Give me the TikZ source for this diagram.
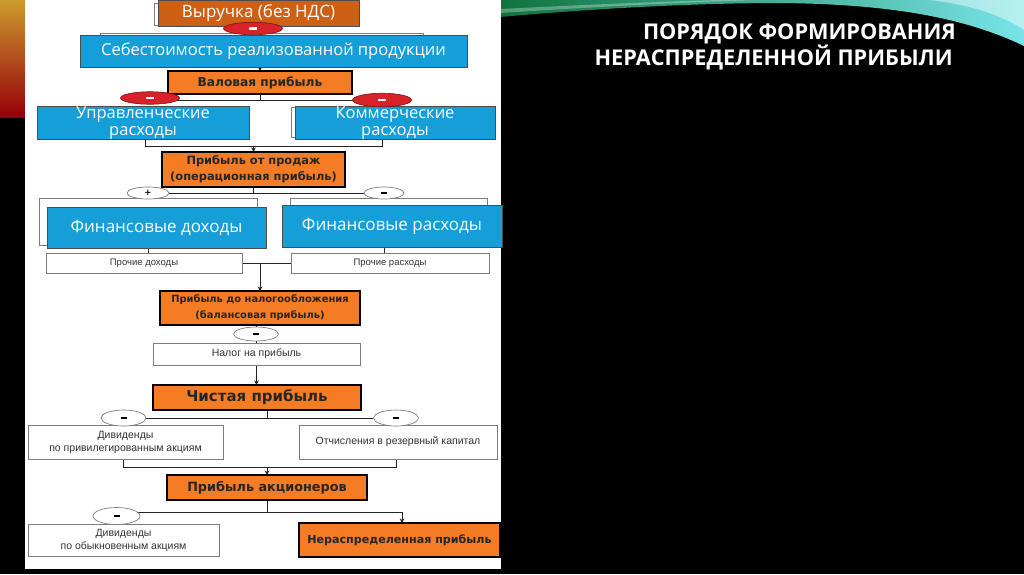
\documentclass[tikz,border=0pt]{standalone}
\usepackage{fontspec}
\setmainfont{Open Sans}
\newfontfamily\osans{Open Sans}
\newfontfamily\dvs{DejaVu Sans}
\newfontfamily\lsans{Liberation Sans}
\usetikzlibrary{arrows.meta,shapes.geometric}
\pgfdeclarelayer{bg}
\pgfsetlayers{bg,main}
\definecolor{revor}{RGB}{206,96,22}
\definecolor{boxor}{RGB}{244,124,36}
\definecolor{boxbl}{RGB}{22,158,216}
\definecolor{ovred}{RGB}{214,34,40}
\definecolor{lncol}{RGB}{35,35,35}
\definecolor{gbord}{RGB}{125,125,125}
\newcommand{\redminus}{\rule{7.5pt}{2.6pt}}
\newcommand{\whminus}{\rule{6pt}{1.7pt}}
\tikzset{
  bx/.style={rectangle, inner sep=0pt, outer sep=0pt, anchor=center, align=center},
  bluebox/.style={bx, fill=boxbl, draw=black!70, line width=0.8pt, text=white,
    font=\osans\fontsize{16.5}{17}\selectfont},
  revbox/.style={bx, fill=revor, draw=black!70, line width=0.8pt, text=white,
    font=\osans\fontsize{17}{18}\selectfont},
  orbox/.style={bx, fill=boxor, draw=black, line width=1.6pt, text=black!85},
  whbox/.style={bx, fill=white, draw=gbord, line width=0.8pt, text=black!80},
  backbox/.style={draw=gbord, fill=white, line width=0.7pt},
  redov/.style={ellipse, fill=ovred, draw=ovred!55!black, line width=0.6pt,
    minimum width=59pt, minimum height=12.5pt, inner sep=0pt, text=white},
  whov/.style={ellipse, fill=white, draw=gbord, line width=0.7pt,
    minimum width=45pt, minimum height=14pt, inner sep=0pt, text=black,
    font=\dvs\bfseries\fontsize{8.5}{8.5}\selectfont},
  conn/.style={draw=lncol, line width=0.8pt},
  arr/.style={conn, -{Stealth[length=4.5pt,width=4.5pt]}},
  ttl/.style={text=white, font=\osans\bfseries\fontsize{21.7}{26}\selectfont, inner sep=0pt, anchor=base east}
}
\begin{document}
\begin{tikzpicture}[x=1pt,y=-1pt]
\useasboundingbox (0,0) rectangle (1024,574);
\begin{pgfonlayer}{bg}
\fill[black] (0,0) rectangle (1024,574);
\shade[top color={rgb,255:red,205;green,155;blue,45}, middle color={rgb,255:red,228;green,45;blue,20}, bottom color={rgb,255:red,150;green,0;blue,10}] (0,0) rectangle (25,117);
\shade[left color={rgb,255:red,15;green,115;blue,60}, middle color={rgb,255:red,50;green,190;blue,170}, right color={rgb,255:red,120;green,228;blue,232}]
  (500,0) -- (1024,0) -- (1024,46) .. controls (960,15) and (880,4) .. (780,3) .. controls (700,3) and (600,8) .. (500,17) -- cycle;
\fill[white, opacity=0.3] (500,9) .. controls (580,5) and (650,2) .. (720,0) -- (760,0) .. controls (660,3) and (580,8) .. (500,13) -- cycle;
\fill[white, opacity=0.45] (930,0) -- (1024,0) -- (1024,30) .. controls (1000,14) and (970,5) .. (930,0) -- cycle;
\fill[white] (25,0) rectangle (501,569);
\draw[backbox] (154,3) rectangle (356,25);
\draw[backbox] (100,33) rectangle (423,60);
\draw[backbox] (291,107) rectangle (490,137);
\draw[backbox] (39,198) rectangle (257,245);
\draw[backbox] (290,198) rectangle (487,247);
\end{pgfonlayer}

% title
\node[ttl] (title1) at (956,39) {ПОРЯДОК ФОРМИРОВАНИЯ};
\node[ttl] (title2) at (953,65) {НЕРАСПРЕДЕЛЕННОЙ ПРИБЫЛИ};

% boxes
\node[revbox, minimum width=201pt, minimum height=26pt] (rev) at (258.5,13) {Выручка (без НДС)};
\node[bluebox, minimum width=387pt, minimum height=32pt] (cost) at (273.5,51) {Себестоимость реализованной продукции};
\node[orbox, minimum width=184pt, minimum height=23pt, font=\dvs\bfseries\fontsize{12.2}{14}\selectfont] (gross) at (260,82.5) {Валовая прибыль};
\node[bluebox, minimum width=212pt, minimum height=32pt] (upr) at (143,123) {Управленческие\\расходы};
\node[bluebox, minimum width=200pt, minimum height=32pt] (kom) at (395,123) {Коммерческие\\расходы};
\node[orbox, minimum width=183pt, minimum height=35pt, font=\dvs\bfseries\fontsize{11.4}{16}\selectfont] (sales) at (253.5,169.5) {Прибыль от продаж\\(операционная прибыль)};
\node[bluebox, minimum width=219pt, minimum height=41pt, font=\osans\fontsize{17}{18}\selectfont] (findoh) at (156.5,227.5) {Финансовые доходы};
\node[bluebox, minimum width=220pt, minimum height=42pt, font=\osans\fontsize{17}{18}\selectfont] (finras) at (392,226) {Финансовые расходы};
\node[whbox, minimum width=196pt, minimum height=20pt, font=\lsans\fontsize{9.5}{11}\selectfont] (prdoh) at (144,263) {Прочие доходы};
\node[whbox, minimum width=198pt, minimum height=20pt, font=\lsans\fontsize{9.5}{11}\selectfont] (prras) at (390,263) {Прочие расходы};
\node[orbox, minimum width=200pt, minimum height=34pt, font=\dvs\bfseries\fontsize{9.9}{16}\selectfont] (pretax) at (260,308) {Прибыль до налогообложения\\(балансовая прибыль)};
\node[whbox, minimum width=207pt, minimum height=22pt, font=\lsans\fontsize{10.5}{12}\selectfont] (tax) at (256.5,354) {Налог на прибыль};
\node[orbox, minimum width=208pt, minimum height=25pt, font=\dvs\bfseries\fontsize{15}{17}\selectfont] (net) at (257,397.5) {Чистая прибыль};
\node[whbox, minimum width=195pt, minimum height=34pt, font=\lsans\fontsize{10.5}{13}\selectfont] (divpref) at (125.5,442) {Дивиденды\\по привилегированным акциям};
\node[whbox, minimum width=198pt, minimum height=34pt, font=\lsans\fontsize{10.5}{13}\selectfont] (reserve) at (398,442) {Отчисления в резервный капитал};
\node[orbox, minimum width=200pt, minimum height=25pt, font=\dvs\bfseries\fontsize{12.8}{15}\selectfont] (shareh) at (267,487.5) {Прибыль акционеров};
\node[whbox, minimum width=191pt, minimum height=32pt, font=\lsans\fontsize{10.5}{13}\selectfont] (divcom) at (123.5,540) {Дивиденды\\по обыкновенным акциям};
\node[orbox, minimum width=201pt, minimum height=34pt, font=\dvs\bfseries\fontsize{11.1}{13}\selectfont] (retained) at (399.5,540) {Нераспределенная прибыль};

% ovals
\node[redov] (ovR) at (253,28.5) {\redminus};
\node[redov] (ovUL) at (150,98) {\redminus};
\node[redov, minimum height=13.5pt] (ovKR) at (382,100) {\redminus};
\node[whov, minimum width=42pt, minimum height=12pt] (ovP) at (148,193) {+};
\node[whov, minimum width=40pt, minimum height=12pt] (ovF) at (384,193) {\whminus};
\node[whov] (ovTax) at (256,334) {\whminus};
\node[whov, minimum height=16pt] (ovN1) at (123.5,418) {\whminus};
\node[whov, minimum height=16pt] (ovN2) at (396,418) {\whminus};
\node[whov, minimum width=47pt, minimum height=17pt] (ovD) at (116.5,516) {\whminus};

% junction points
\coordinate (j1) at (260,100);
\coordinate (jL) at (145,146);
\coordinate (j2) at (253.5,146);
\coordinate (jR) at (382,146);
\coordinate (j3) at (267,418);
\coordinate (j4) at (267,467);
\coordinate (j5) at (267,512);
\coordinate (j6) at (402,512);

\begin{pgfonlayer}{bg}
\draw[conn] (rev.south) -- (rev.south |- cost.north);
\draw[arr] (gross.north |- cost.south) -- (gross.north);
\draw[conn] (gross.south) -- (j1);
\draw[conn] (ovUL.center |- j1) -- (ovKR.center);
\draw[conn] (upr.south -| jL) -- (jL) -- (jR) -- (kom.south -| jR);
\draw[arr] (j2) -- (sales.north);
\draw[conn] (sales.south) -- (sales.south |- ovP);
\draw[conn] (ovP) -- (ovF);
\draw[conn] (findoh.south -| ovP) -- (prdoh.north -| ovP);
\draw[conn] (finras.south -| ovF) -- (prras.north -| ovF);
\draw[conn] (prdoh.east) -- (prras.west);
\draw[arr] (pretax.north |- prdoh.east) -- (pretax.north);
\draw[conn] (ovTax |- pretax.south) -- (ovTax |- tax.north);
\draw[arr] (tax.south) -- (tax.south |- net.north);
\draw[conn] (j3 |- net.south) -- (j3);
\draw[conn] (ovN1) -- (ovN2);
\draw[conn] (divpref.south -| ovN1) |- (j4) -| (reserve.south -| ovN2);
\draw[arr] (j4) -- (shareh.north);
\draw[conn] (shareh.south) -- (j5) -- (j5 -| ovD);
\draw[arr] (j5) -| (retained.north -| j6);
\end{pgfonlayer}
\end{tikzpicture}
\end{document}
